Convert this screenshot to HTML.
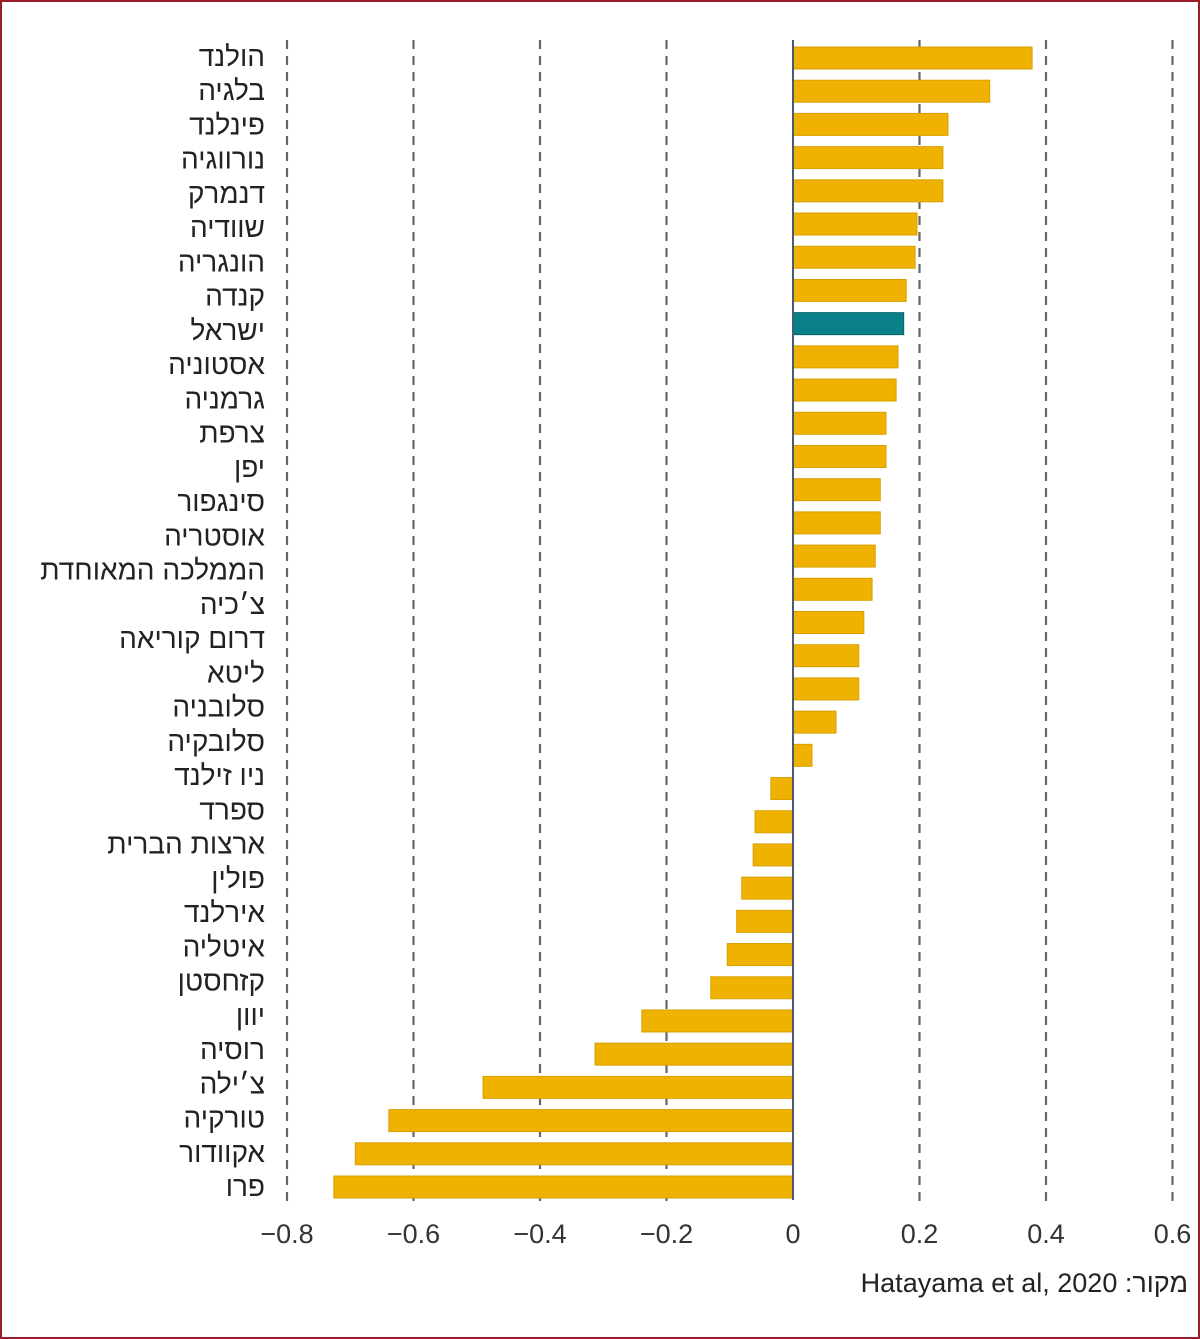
<!DOCTYPE html>
<html><head><meta charset="utf-8"><style>
html,body{margin:0;padding:0;background:#fff}
svg{display:block}
text{font-family:"Liberation Sans","Noto Sans CJK JP",sans-serif}
#src{position:absolute;right:12px;top:1268px;font-family:"Liberation Sans","Noto Sans CJK JP",sans-serif;font-size:27px;color:#222;white-space:nowrap}
</style></head><body>
<div style="position:relative;width:1200px;height:1339px">
<svg id="chart" width="1200" height="1339" viewBox="0 0 1200 1339" xmlns="http://www.w3.org/2000/svg">
<rect x="1" y="1" width="1198" height="1337" fill="#fff" stroke="#9b1b2a" stroke-width="2"/>
<g id="grid"></g><g id="bars"></g><g id="labels"></g><g id="ticks"></g>
</svg>
<div id="src" dir="rtl">מקור: Hatayama et al, 2020</div>
</div>
<script>
const categories = ["הולנד","בלגיה","פינלנד","נורווגיה","דנמרק","שוודיה","הונגריה","קנדה","ישראל","אסטוניה","גרמניה","צרפת","יפן","סינגפור","אוסטריה","הממלכה המאוחדת","צ׳כיה","דרום קוריאה","ליטא","סלובניה","סלובקיה","ניו זילנד","ספרד","ארצות הברית","פולין","אירלנד","איטליה","קזחסטן","יוון","רוסיה","צ׳ילה","טורקיה","אקוודור","פרו"];
const values = [0.378,0.311,0.245,0.237,0.237,0.196,0.193,0.179,0.175,0.166,0.163,0.147,0.147,0.138,0.138,0.130,0.125,0.112,0.104,0.104,0.068,0.030,-0.035,-0.060,-0.063,-0.081,-0.089,-0.104,-0.130,-0.239,-0.313,-0.490,-0.639,-0.692,-0.726];
const highlightIndex = [8];
const ticks = [-0.8,-0.6,-0.4,-0.2,0,0.2,0.4,0.6];
const tickLabels = ["−0.8","−0.6","−0.4","−0.2","0","0.2","0.4","0.6"];

const NS="http://www.w3.org/2000/svg";
const x = v => 793 + v*632.5;
const barY = i => 58 + i*(1129/(values.length-1));
const labelY = j => 56 + j*(1130/(categories.length-1));
function mk(tag, attrs, parent){const e=document.createElementNS(NS,tag);for(const k in attrs)e.setAttribute(k,attrs[k]);parent.appendChild(e);return e;}
const grid=document.getElementById('grid'), bars=document.getElementById('bars'), labels=document.getElementById('labels'), tk=document.getElementById('ticks');
ticks.forEach((t,i)=>{
  if(t!==0){
    const l=mk('line',{x1:x(t),x2:x(t),y1:40,y2:1208,stroke:'#666','stroke-width':2.2,'stroke-dasharray':'9,7'},grid);
    
    
  }
  const tx=mk('text',{x:x(t),y:1243,'text-anchor':'middle','font-size':27,fill:'#333'},tk);
  tx.textContent=tickLabels[i];
  
  
});
values.forEach((v,i)=>{
  const x0=Math.min(x(0),x(v)), w=Math.abs(x(v)-x(0));
  const r=mk('rect',{x:x0,y:barY(i)-11,width:w,height:22,fill:highlightIndex.includes(i)?'#0a8088':'#efb200',stroke:highlightIndex.includes(i)?'#06666c':'#d9a000','stroke-width':1},bars);
  
  
});
const axis=mk('line',{x1:793,x2:793,y1:40,y2:1200,stroke:'#4a5a70','stroke-width':2},bars);


categories.forEach((c,j)=>{
  const t=mk('text',{x:265,y:labelY(j)+10,'text-anchor':'end','font-size':28,fill:'#222'},labels);
  t.textContent=c;
  
  
});
</script>
</body></html>
